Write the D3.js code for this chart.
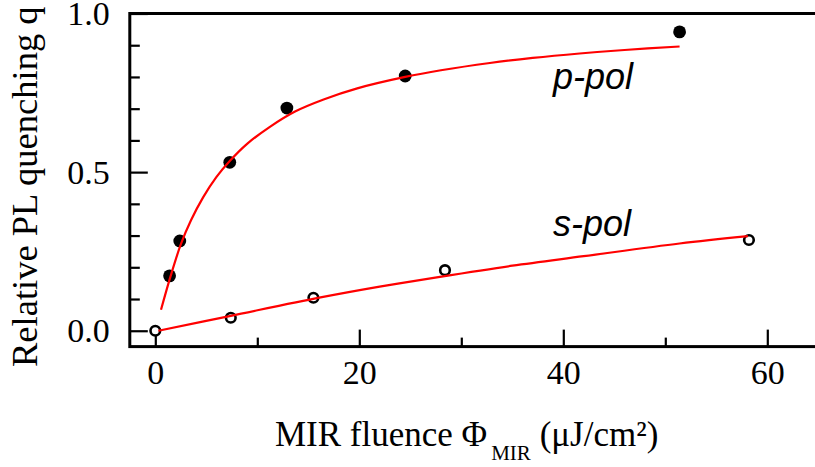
<!DOCTYPE html>
<html>
<head>
<meta charset="utf-8">
<script src="https://cdn.jsdelivr.net/npm/d3@7"></script>
<style>
  html, body { margin: 0; padding: 0; background: #fff; }
  svg { display: block; }
  .serif { font-family: "Liberation Serif", "Times New Roman", Times, serif; }
  .sans { font-family: "Liberation Sans", Arial, Helvetica, sans-serif; font-style: italic; }
</style>
</head>
<body>
<svg id="chart" width="815" height="467"></svg>
<script>
// Measured quenching, p-polarised MIR (filled markers)
const pFluence = [1.4, 2.4, 7.3, 12.9, 24.5, 51.4];
const pQuench  = [0.173, 0.283, 0.531, 0.702, 0.803, 0.942];

// Measured quenching, s-polarised MIR (open markers)
const sFluence = [0, 7.4, 15.5, 28.4, 58.2];
const sQuench  = [0, 0.041, 0.104, 0.191, 0.286];

// Fitted curves, sampled along their trace
const pFitFluence = [0.56, 1.5, 2.5, 3.5, 4.7, 6.0, 7.3, 9.0, 11.2, 13.7, 16.5, 19.8, 24.5, 28.0, 32.8, 37.0, 41.6, 46.0, 51.4];
const pFitQuench  = [0.066, 0.172, 0.272, 0.348, 0.421, 0.485, 0.535, 0.589, 0.642, 0.691, 0.729, 0.764, 0.800, 0.821, 0.844, 0.860, 0.874, 0.885, 0.896];
const sFitFluence = [0.3, 7.4, 16.2, 22.0, 27.9, 35.0, 42.0, 51.4, 58.1];
const sFitQuench  = [0.0, 0.047, 0.105, 0.139, 0.170, 0.205, 0.235, 0.275, 0.298];

// Axis ticks
const xMajorTicks = [0, 20, 40, 60];
const xMinorTicks = [10, 30, 50];
const yMajorTicks = [0.0, 0.5, 1.0];
const yMinorTicks = [0.1, 0.2, 0.3, 0.4, 0.6, 0.7, 0.8, 0.9];

const svg = d3.select("#chart");

const x = d3.scaleLinear().domain([-2.5, 65]).range([129.8, 818.3]);
const y = d3.scaleLinear().domain([-0.05, 1.0]).range([346.6, 13.5]);

// Frame
svg.append("rect")
  .attr("x", x(-2.5)).attr("y", y(1.0))
  .attr("width", x(65) - x(-2.5)).attr("height", y(-0.05) - y(1.0))
  .attr("fill", "none").attr("stroke", "#000").attr("stroke-width", 3);

// Y axis
svg.append("g").attr("transform", `translate(${x(-2.5)},0)`)
  .call(d3.axisLeft(y).tickValues(yMajorTicks).tickSize(-18).tickSizeOuter(0)
    .tickPadding(20).tickFormat(d3.format(".1f")));
svg.append("g").attr("transform", `translate(${x(-2.5)},0)`)
  .call(d3.axisLeft(y).tickValues(yMinorTicks).tickSize(-10).tickSizeOuter(0).tickFormat(""));

// X axis
svg.append("g").attr("transform", `translate(0,${y(-0.05)})`)
  .call(d3.axisBottom(x).tickValues(xMajorTicks).tickSize(-17).tickSizeOuter(0)
    .tickPadding(13).tickFormat(d3.format("d")));
svg.append("g").attr("transform", `translate(0,${y(-0.05)})`)
  .call(d3.axisBottom(x).tickValues(xMinorTicks).tickSize(-9).tickSizeOuter(0).tickFormat(""));

svg.selectAll(".domain").remove();
svg.selectAll("g").attr("font-family", null).attr("font-size", null);
svg.selectAll(".tick line").attr("stroke", "#000").attr("stroke-width", 2.2);
svg.selectAll(".tick text")
  .attr("class", "serif").attr("font-size", 34).attr("fill", "#000");

// Markers
svg.append("g").selectAll("circle")
  .data(sFluence.map((f, i) => [f, sQuench[i]]))
  .join("circle")
  .attr("cx", d => x(d[0])).attr("cy", d => y(d[1])).attr("r", 4.8)
  .attr("fill", "#fff").attr("stroke", "#000").attr("stroke-width", 2.6);

svg.append("g").selectAll("circle")
  .data(pFluence.map((f, i) => [f, pQuench[i]]))
  .join("circle")
  .attr("cx", d => x(d[0])).attr("cy", d => y(d[1])).attr("r", 6.4)
  .attr("fill", "#000");

// Fit curves
const line = d3.line().x(d => x(d[0])).y(d => y(d[1])).curve(d3.curveCatmullRom.alpha(0.5));
svg.append("path")
  .datum(pFitFluence.map((f, i) => [f, pFitQuench[i]]))
  .attr("d", line).attr("fill", "none").attr("stroke", "#ff0000").attr("stroke-width", 2.2);
svg.append("path")
  .datum(sFitFluence.map((f, i) => [f, sFitQuench[i]]))
  .attr("d", line).attr("fill", "none").attr("stroke", "#ff0000").attr("stroke-width", 2.2);

// Series labels
svg.append("text").attr("class", "sans").attr("x", 553).attr("y", 89)
  .attr("font-size", 36).text("p-pol");
svg.append("text").attr("class", "sans").attr("x", 553).attr("y", 236)
  .attr("font-size", 36).text("s-pol");

// Axis titles
const xt = svg.append("text").attr("class", "serif").attr("x", 275).attr("y", 446)
  .attr("font-size", 35);
xt.append("tspan").text("MIR fluence Φ");
xt.append("tspan").attr("font-size", 21).attr("dx", 4).attr("dy", 14).text("MIR");
xt.append("tspan").attr("dy", -14).text(" (μJ/cm²)");

svg.append("text").attr("class", "serif")
  .attr("transform", "translate(37,367) rotate(-90)")
  .attr("font-size", 36.5)
  .text("Relative PL quenching q");
</script>
</body>
</html>
